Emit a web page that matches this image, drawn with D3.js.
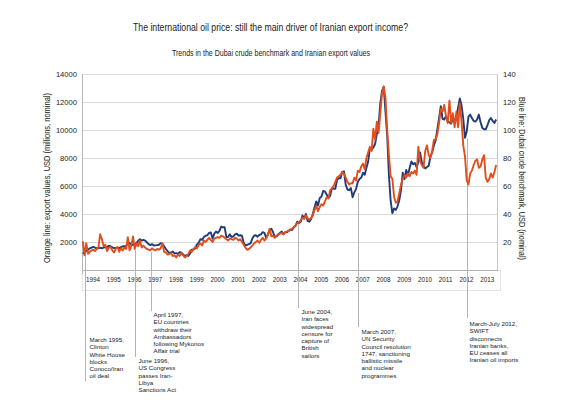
<!DOCTYPE html>
<html><head><meta charset="utf-8">
<script src="https://cdn.jsdelivr.net/npm/d3@7"></script>
<style>
body{margin:0;background:#fff}
svg{display:block}
text{font-family:"Liberation Sans",Arial,Helvetica,sans-serif;fill:#222}
</style>
</head><body><svg id="c" width="570" height="402"></svg>
<script>
// ---------- DATA ----------
const years = [1994,1995,1996,1997,1998,1999,2000,2001,2002,2003,2004,2005,2006,2007,2008,2009,2010,2011,2012,2013];
const exportTicks = [2000,4000,6000,8000,10000,12000,14000];
const priceTicks = [20,40,60,80,100,120,140];

// Dubai crude benchmark, USD/bbl, monthly Jan 1994 - Dec 2013 (blue, right axis)
const dubaiPrice = [
 11.5,13.0,13.5,14.5,15.5,16.0,16.5,16.0,15.5,15.5,16.0,15.5,
 16.0,16.3,16.4,17.3,17.0,16.2,15.6,15.8,15.9,15.6,16.3,16.8,
 17.0,17.2,18.5,19.4,18.0,17.9,18.5,19.2,20.9,22.0,21.0,21.5,
 21.0,19.8,18.5,17.8,18.5,17.5,17.6,17.8,18.0,19.2,18.8,17.0,
 15.0,13.5,12.0,12.5,13.2,11.9,12.0,11.5,12.8,12.4,11.2,9.9,
 10.6,10.0,11.8,14.5,14.7,15.4,18.3,19.5,22.0,21.5,23.5,24.5,
 24.8,26.5,26.8,22.5,26.0,27.5,26.5,28.0,31.0,30.5,30.5,23.5,
 23.5,25.5,23.5,24.0,25.5,26.0,24.5,24.8,24.5,19.5,17.5,18.0,
 18.5,19.0,22.5,24.5,24.8,23.8,25.0,25.5,27.0,26.5,23.0,25.5,
 28.5,29.5,27.0,23.5,24.0,25.5,26.5,27.5,25.5,27.0,27.0,28.0,
 29.0,28.5,30.5,31.5,34.5,33.5,34.5,39.0,37.0,40.0,35.0,34.5,
 36.5,40.0,45.0,49.0,46.0,51.5,52.5,56.5,56.0,54.0,51.5,53.0,
 58.5,58.0,58.0,64.5,65.5,65.5,70.0,70.5,61.0,57.5,57.0,58.5,
 52.0,55.5,58.0,63.0,65.0,66.0,69.5,68.0,73.0,77.5,87.0,86.0,
 87.5,90.0,97.0,103.0,119.0,128.0,131.0,113.0,96.0,67.5,49.5,40.5,
 44.0,43.0,45.5,50.0,57.0,69.5,65.0,71.5,67.5,73.0,77.5,75.5,
 76.5,73.5,77.0,84.0,77.0,74.0,72.5,73.5,74.5,81.0,84.0,89.0,
 92.5,100.5,108.5,117.0,108.0,107.5,110.0,106.0,105.5,104.5,108.5,106.5,
 109.5,116.0,122.5,117.5,108.0,94.5,99.0,109.5,111.0,108.5,106.5,106.0,
 107.5,111.0,105.5,101.5,100.5,100.5,103.5,107.0,108.5,106.5,105.0,107.5
];

// Iranian export values, USD millions, monthly Jan 1994 - Dec 2013 (orange, left axis)
const iranExports = [
 2050,1050,1900,1150,1300,1400,1450,1350,1500,1600,2550,2200,
 1700,1800,1350,1600,1650,1400,1250,1500,1650,1300,1550,1400,
 1600,1500,2350,1400,1700,2400,1500,1900,1700,2100,1600,1750,
 1600,1500,1450,1400,1550,1450,1400,1500,1450,1550,1900,1300,
 1250,1100,1150,1200,1000,1050,900,1100,1000,1200,1050,900,
 1000,1150,1400,1300,1500,1650,1550,1800,1900,1750,2100,2000,
 2150,2300,2150,2000,2250,2300,2350,2300,2450,2400,2300,2200,
 2100,2250,2200,2150,2300,2250,2100,2200,2000,1800,1600,1450,
 1500,1600,1750,1900,2000,2100,1950,2150,2300,2100,2250,2500,
 2950,2400,2450,2300,2450,2500,2600,2650,2550,2700,2750,2800,
 2850,2950,3050,3200,3350,3400,3550,3750,3650,3900,3700,3600,
 3700,3900,4300,4600,4200,4500,4700,4600,4900,5200,5100,5700,
 5800,6000,6300,6600,6700,6800,7000,6900,6600,6300,6100,6200,
 6200,6600,6400,7100,7000,7400,7600,7200,8000,8400,8800,8500,
 10100,9300,10600,9800,11200,12600,13100,12300,10000,8200,6700,6500,
 5200,4800,4900,5500,6100,6500,6800,6600,6900,6700,7000,6900,
 7100,6800,8800,7800,7500,7300,8500,8900,8200,8000,8500,9300,
 9300,9700,10500,11500,11300,11800,11000,10500,12100,10500,11200,10200,
 11300,10200,11900,10600,8900,8100,6400,6100,6900,7100,7500,7800,
 7900,7300,7400,7900,8200,6600,6300,6500,6900,6600,7000,7500
];

// Annotated events: time on the chart (decimal year), level reached (export units), text
const eventTimes = [1994.15, 1996.55, 1997.33, 2004.41, 2007.30, 2012.55];
const eventLevels = [2000, 1430, 1290, 3360, 5500, 9400];
const eventTexts = [
 ["March 1995,","Clinton","White House","blocks","Conoco/Iran","oil deal"],
 ["June 1996,","US Congress","passes Iran-","Libya","Sanctions Act"],
 ["April 1997,","EU countries","withdraw their","Ambassadors","following Mykonos","Affair trial"],
 ["June 2004,","Iran faces","widespread","censure for","capture of","British","sailors"],
 ["March 2007,","UN Security","Council resolution","1747, sanctioning","ballistic missile","and nuclear","programmes"],
 ["March-July 2012,","SWIFT","disconnects","Iranian banks,","EU ceases all","Iranian oil imports"]
];

const titleText = "The international oil price: still the main driver of Iranian export income?";
const subtitleText = "Trends in the Dubai crude benchmark and Iranian export values";
const leftTitle = "Orange line: export values, USD (millions, nominal)";
const rightTitle = "Blue line: Dubai crude benchmark, USD (nominal)";

// ---------- LAYOUT ----------
const L = 82, R = 497, T = 74, B = 270;
const eventLayout = [
 {dx:4, top:342, end:381},
 {dx:3, top:363, end:357},
 {dx:2, top:317, end:311},
 {dx:3, top:314, end:308},
 {dx:3, top:334, end:327},
 {dx:2, top:326, end:318}
];
const blueCol = "#1f3b7a", orangeCol = "#e24e1b";

const svg = d3.select("#c");
const x = d3.scaleLinear().domain([1994, 2014]).range([L, R]);
const yL = d3.scaleLinear().domain([0, 14000]).range([B, T]);
const yR = d3.scaleLinear().domain([0, 140]).range([B, T]);
const tMonth = i => 1994 + (i + 0.5) / 12;

// titles
svg.append("text").attr("x", 270.5).attr("y", 31).attr("text-anchor","middle")
  .attr("font-size", 11).attr("textLength", 275).attr("lengthAdjust","spacingAndGlyphs")
  .text(titleText);
svg.append("text").attr("x", 271).attr("y", 55.5).attr("text-anchor","middle")
  .attr("font-size", 9).attr("textLength", 198).attr("lengthAdjust","spacingAndGlyphs")
  .text(subtitleText);

// x-axis band box
svg.append("rect").attr("x", L + 0.5).attr("y", B + 0.5).attr("width", 418).attr("height", 20)
  .attr("fill","none").attr("stroke","#e4e4e4");

// gridlines
svg.append("g").attr("transform",`translate(${L},0)`)
  .call(d3.axisLeft(yL).tickValues(exportTicks).tickSize(-(R - L)).tickFormat(""))
  .call(g => g.select(".domain").remove())
  .call(g => g.selectAll("line").attr("stroke","#d9d9d9"));

// plot frame
svg.append("line").attr("x1", L + 0.5).attr("x2", L + 0.5).attr("y1", T).attr("y2", B + 4).attr("stroke","#b8b8b8");
svg.append("line").attr("x1", R + 0.5).attr("x2", R + 0.5).attr("y1", T).attr("y2", B).attr("stroke","#c8c8c8");
svg.append("line").attr("x1", L).attr("x2", R + 1).attr("y1", B + 0.5).attr("y2", B + 0.5).attr("stroke","#b0b0b0");

// left axis
svg.append("g").attr("transform",`translate(${L},0)`)
  .call(d3.axisLeft(yL).tickValues(exportTicks).tickSize(0).tickPadding(5).tickFormat(d3.format("d")))
  .call(g => g.select(".domain").remove())
  .call(g => g.selectAll("text").attr("font-size", 7.6).attr("fill","#222").attr("font-family",'"Liberation Sans",Arial,sans-serif'));

// right axis
svg.append("g").attr("transform",`translate(${R},0)`)
  .call(d3.axisRight(yR).tickValues(priceTicks).tickSize(0).tickPadding(6).tickFormat(d3.format("d")))
  .call(g => g.select(".domain").remove())
  .call(g => g.selectAll("text").attr("font-size", 7.6).attr("fill","#222").attr("font-family",'"Liberation Sans",Arial,sans-serif'));

// bottom axis (years)
svg.append("g").attr("transform",`translate(0,${B})`)
  .call(d3.axisBottom(x).tickValues(years.map(y => y + 0.5)).tickSize(0).tickPadding(8)
    .tickFormat((d, i) => String(years[i])))
  .call(g => g.select(".domain").remove())
  .call(g => g.selectAll("text").attr("font-size", 6.3).attr("fill","#222").attr("font-family",'"Liberation Sans",Arial,sans-serif'));

// axis titles
svg.append("text").attr("transform","translate(50,178) rotate(-90)").attr("text-anchor","middle")
  .attr("font-size", 8.2).attr("textLength", 170).attr("lengthAdjust","spacingAndGlyphs").text(leftTitle);
svg.append("text").attr("transform","translate(519,178.5) rotate(90)").attr("text-anchor","middle")
  .attr("font-size", 8.2).attr("textLength", 163).attr("lengthAdjust","spacingAndGlyphs").text(rightTitle);

// annotation lines + texts
eventTimes.forEach((t, i) => {
  const xx = Math.round(x(t)) + 0.5;
  svg.append("line").attr("x1", xx).attr("x2", xx)
    .attr("y1", yL(eventLevels[i])).attr("y2", eventLayout[i].end)
    .attr("stroke","#b4b4b4").attr("stroke-width", 1);
  const tx = svg.append("text").attr("x", xx + eventLayout[i].dx).attr("y", eventLayout[i].top)
    .attr("font-size", 6.2).attr("fill","#333");
  eventTexts[i].forEach((s, j) => {
    tx.append("tspan").attr("x", xx + eventLayout[i].dx).attr("y", eventLayout[i].top + j * 7.25).text(s);
  });
});

// data lines
const blueLine = d3.line().x((d, i) => x(tMonth(i))).y(d => yR(d));
const orangeLine = d3.line().x((d, i) => x(tMonth(i))).y(d => yL(d));
svg.append("path").datum(dubaiPrice).attr("d", blueLine)
  .attr("fill","none").attr("stroke", blueCol).attr("stroke-width", 1.9).attr("stroke-linejoin","round");
svg.append("path").datum(iranExports).attr("d", orangeLine)
  .attr("fill","none").attr("stroke", orangeCol).attr("stroke-width", 1.9).attr("stroke-linejoin","round");
</script>
</body></html>
